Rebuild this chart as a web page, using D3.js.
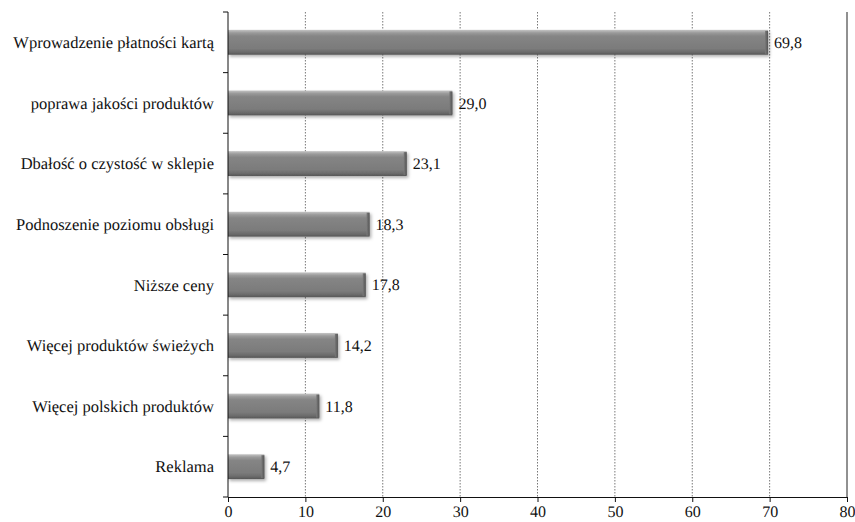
<!DOCTYPE html>
<html>
<head>
<meta charset="utf-8">
<script src="https://cdn.jsdelivr.net/npm/d3@7"></script>
<style>
  html, body { margin: 0; padding: 0; background: #fff; }
  svg text { text-rendering: geometricPrecision; }
</style>
</head>
<body>
<svg id="chart" width="855" height="522"></svg>
<script>
// Categories (top to bottom) and their values in percent
const categories = [
  "Wprowadzenie płatności kartą",
  "poprawa jakości produktów",
  "Dbałość o czystość w sklepie",
  "Podnoszenie poziomu obsługi",
  "Niższe ceny",
  "Więcej produktów świeżych",
  "Więcej polskich produktów",
  "Reklama"
];
const values = [69.8, 29.0, 23.1, 18.3, 17.8, 14.2, 11.8, 4.7];
const xTicks = [0, 10, 20, 30, 40, 50, 60, 70, 80];

const FONT = "'Liberation Serif', serif";

const svg = d3.select("#chart");
const margin = { top: 12, right: 8, bottom: 25, left: 228 };
const W = 855, H = 522;
const plotH = H - margin.top - margin.bottom;

const x = d3.scaleLinear().domain([0, 80]).range([0, 619]);
const y = d3.scaleBand().domain(categories).range([0, plotH]).paddingInner(0.59).paddingOuter(0.295);

const defs = svg.append("defs");
const grad = defs.append("linearGradient").attr("id", "barGrad")
  .attr("x1", 0).attr("y1", 0).attr("x2", 0).attr("y2", 1);
[[0, "#c4c4c4"], [0.12, "#9a9a9a"], [0.25, "#858585"], [0.75, "#7b7b7b"], [0.9, "#6a6a6a"], [1, "#555"]]
  .forEach(([o, c]) => grad.append("stop").attr("offset", o).attr("stop-color", c));
const endGrad = defs.append("linearGradient").attr("id", "endGrad")
  .attr("x1", 0).attr("y1", 0).attr("x2", 1).attr("y2", 0);
[[0, "#7a7a7a"], [1, "#555"]].forEach(([o, c]) => endGrad.append("stop").attr("offset", o).attr("stop-color", c));
const shadow = defs.append("filter").attr("id", "shadow").attr("x", "-5%").attr("y", "-30%").attr("width", "115%").attr("height", "170%");
shadow.append("feDropShadow").attr("dx", 1.5).attr("dy", 2).attr("stdDeviation", 1.5).attr("flood-color", "#000").attr("flood-opacity", 0.3);

const g = svg.append("g").attr("transform", `translate(${margin.left},${margin.top})`);

// Vertical dotted grid lines
g.append("g").selectAll("line").data(xTicks.filter(t => t > 0 && t < 80)).join("line")
  .attr("x1", d => x(d)).attr("x2", d => x(d))
  .attr("y1", 0).attr("y2", plotH)
  .attr("stroke", "#555").attr("stroke-width", 0.8).attr("stroke-dasharray", "1.5,1.5");

// Right border line at the axis maximum
g.append("line").attr("x1", x(80)).attr("x2", x(80)).attr("y1", 0).attr("y2", plotH)
  .attr("stroke", "#222").attr("stroke-width", 1);

// Bars with a bevelled look
const bars = g.append("g").selectAll("g").data(categories).join("g")
  .attr("filter", "url(#shadow)");
bars.append("rect")
  .attr("x", 0).attr("y", d => y(d))
  .attr("width", (d, i) => x(values[i]))
  .attr("height", y.bandwidth())
  .attr("fill", "url(#barGrad)");
bars.append("rect")
  .attr("x", (d, i) => x(values[i]) - 3).attr("y", d => y(d) + 1)
  .attr("width", 3).attr("height", y.bandwidth() - 2)
  .attr("fill", "url(#endGrad)");

// Value labels
g.append("g").selectAll("text").data(categories).join("text")
  .attr("x", (d, i) => x(values[i]) + 6)
  .attr("y", d => y(d) + y.bandwidth() / 2)
  .attr("dy", "0.35em")
  .attr("font-family", FONT).attr("font-size", 16).attr("fill", "#111")
  .text((d, i) => values[i].toFixed(1).replace(".", ","));

// X axis
const xAxis = g.append("g").attr("transform", `translate(0,${plotH})`)
  .call(d3.axisBottom(x).tickValues(xTicks).tickSize(5).tickPadding(3).tickSizeOuter(0).tickFormat(d => d));
xAxis.attr("font-family", FONT).attr("font-size", 16);
xAxis.select(".domain").attr("stroke", "#111");
xAxis.selectAll(".tick line").attr("stroke", "#111");
xAxis.selectAll("text").attr("dy", "0.75em").attr("fill", "#111");

// Y axis: line, ticks between categories, labels
const yAxisG = g.append("g");
yAxisG.append("line").attr("x1", 0).attr("x2", 0).attr("y1", 0).attr("y2", plotH).attr("stroke", "#111");
const step = plotH / categories.length;
yAxisG.selectAll("line.tk").data(d3.range(categories.length + 1)).join("line")
  .attr("class", "tk")
  .attr("x1", -5).attr("x2", 0)
  .attr("y1", i => i * step).attr("y2", i => i * step)
  .attr("stroke", "#111");
yAxisG.selectAll("text").data(categories).join("text")
  .attr("x", -14)
  .attr("y", d => y(d) + y.bandwidth() / 2)
  .attr("dy", "0.35em")
  .attr("text-anchor", "end")
  .attr("font-family", FONT).attr("font-size", 16.5).attr("fill", "#111")
  .text(d => d);
</script>
</body>
</html>
